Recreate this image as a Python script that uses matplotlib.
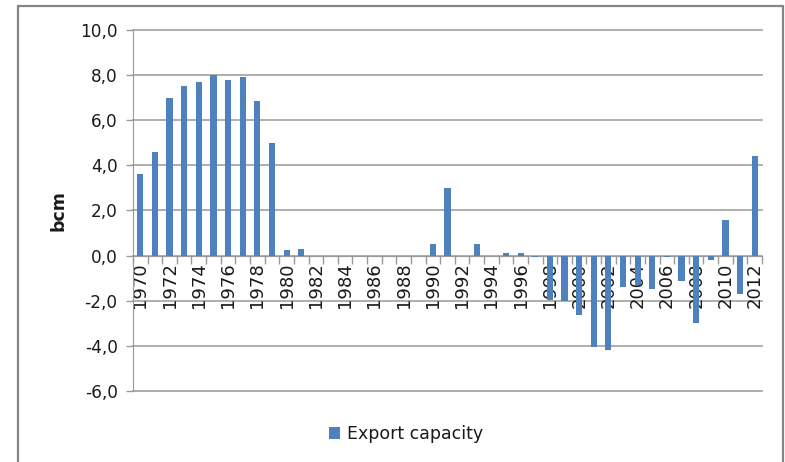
import numpy as np
import matplotlib
matplotlib.use("Agg")
import matplotlib.pyplot as plt
from matplotlib.patches import Rectangle

# ---- data (bcm) ----
years = list(range(1970, 2013))
export_capacity = [
    3.6, 4.6, 7.0, 7.5, 7.7, 8.0, 7.8, 7.9, 6.85, 5.0,   # 1970-1979
    0.25, 0.3, 0.0, 0.0, 0.0, 0.0, 0.0, 0.0, 0.0, 0.0,   # 1980-1989
    0.5, 3.0, 0.0, 0.5, 0.0, 0.1, 0.1, -0.05, -1.95, -2.0,  # 1990-1999
    -2.65, -4.05, -4.2, -1.38, -1.3, -1.47, -0.06, -1.12, -2.98, -0.2,  # 2000-2009
    1.6, -1.7, 4.42,                                      # 2010-2012
]
yticks = [-6, -4, -2, 0, 2, 4, 6, 8, 10]
ytick_labels = ["-6,0", "-4,0", "-2,0", "0,0", "2,0", "4,0", "6,0", "8,0", "10,0"]

BLUE = "#4f81bd"
GRID = "#a8a8a8"
AXC = "#9a9a9a"
TXT = "#1a1a1a"

plt.rcParams["font.family"] = "DejaVu Sans"

fig = plt.figure(figsize=(7.85, 4.62), dpi=100)
ax = fig.add_axes([0.1694, 0.1537, 0.8013, 0.7814])

x = np.arange(len(years))
bars = ax.bar(x, export_capacity, width=0.42, color=BLUE, zorder=3,
              label="Export capacity")

ax.set_xlim(-0.5, len(years) - 0.5)
ax.set_ylim(-6, 10)
ax.set_yticks(yticks)
ax.set_yticklabels(ytick_labels)
for yv in yticks:
    ax.axhline(yv, color=GRID, lw=1.3, zorder=0, clip_on=False)
ax.tick_params(axis="y", length=5, width=1.0, color=AXC, labelsize=12.2,
               labelcolor=TXT, pad=6)

# category axis sits on y = 0, ticks between categories
ax.spines["bottom"].set_position(("data", 0))
ax.spines["bottom"].set_color(AXC)
ax.spines["left"].set_color(AXC)
for s in ("top", "right"):
    ax.spines[s].set_visible(False)
ax.set_xticks(np.arange(len(years) + 1) - 0.5)
ax.set_xticklabels([])
ax.tick_params(axis="x", which="major", length=6, width=1.0, color=AXC)
even = [i for i, y in enumerate(years) if y % 2 == 0]
ax.set_xticks(even, minor=True)
ax.set_xticklabels([str(years[i]) for i in even], minor=True, rotation=90)
ax.tick_params(axis="x", which="minor", length=0, labelsize=13,
               labelcolor=TXT, pad=5)

ax.set_ylabel("bcm", fontsize=12.5, fontweight="bold", color=TXT, labelpad=9)

ax.legend(handles=[bars], loc="center", bbox_to_anchor=(406 / 785, 1 - 434 / 462),
          bbox_transform=fig.transFigure, frameon=False, fontsize=12.5,
          handlelength=0.65, handleheight=0.65, handletextpad=0.4)
for t in ax.get_legend().get_texts():
    t.set_color(TXT)

# outer chart frame
fig.patches.append(Rectangle((18 / 785, -0.05), (783 - 18) / 785, 1 - 6 / 462 + 0.05,
                             transform=fig.transFigure, fill=False,
                             edgecolor="#858585", lw=1.6))

fig.savefig("out.png", dpi=100, facecolor="white")
